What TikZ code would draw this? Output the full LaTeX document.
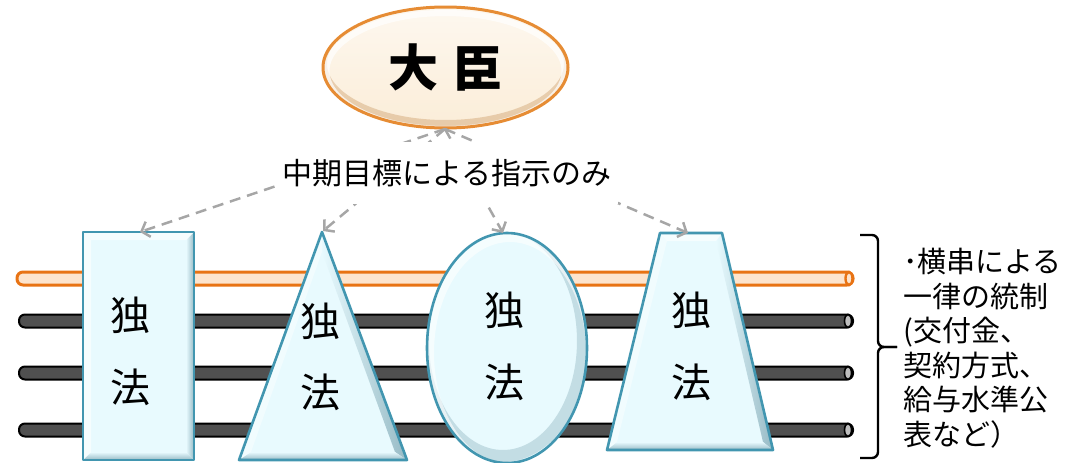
\documentclass[tikz,border=0pt]{standalone}
\usepackage{fontspec}
\newfontfamily\jp{Noto Sans CJK JP}
\usetikzlibrary{arrows.meta,shapes.geometric}
\definecolor{shfill}{RGB}{232,250,254}
\definecolor{shborder}{RGB}{66,150,176}
\definecolor{bevdark}{RGB}{150,186,197}
\definecolor{orangeline}{RGB}{232,115,20}
\definecolor{peach}{RGB}{253,228,205}
\definecolor{bardark}{RGB}{80,80,80}
\definecolor{capgray}{RGB}{190,190,190}
\definecolor{arrowgray}{RGB}{166,166,166}
\definecolor{cream}{RGB}{251,237,216}
\definecolor{minborder}{RGB}{230,140,52}
\definecolor{tan}{RGB}{196,140,80}
\begin{document}
\begin{tikzpicture}[x=1pt,y=-1pt,
  obar/.style={draw=orangeline, fill=peach, line width=3pt, rounded corners=6pt},
  kbar/.style={draw=black, fill=bardark, line width=2pt, rounded corners=6pt},
  shapeborder/.style={draw=shborder, line width=2.6pt, line join=round},
  hilite/.style={fill=white, opacity=.6},
  indep/.style={font=\jp\fontsize{40}{40}\selectfont, inner sep=0pt},
  garrow/.style={draw=arrowgray, line width=2.5pt, dash pattern=on 11pt off 7pt,
     -{Straight Barb[length=7pt,width=16pt]}},
  bracestyle/.style={draw=black, line width=2.4pt, rounded corners=6pt}
]
\useasboundingbox (0,0) rectangle (1072,463);

% ---------- bars ----------
\draw[obar] (17,272) rectangle (853,285);
\draw[draw=orangeline, fill=peach, line width=2.4pt] (849,278.5) ellipse [x radius=3.5, y radius=6.5];
\foreach \yy in {321,373,430}{
  \draw[kbar] (19,\yy-6.5) rectangle (853,\yy+6.5);
  \draw[draw=black, fill=capgray, line width=1.6pt] (848,\yy) ellipse [x radius=3.5, y radius=6.5];
}

% ---------- rectangle ----------
\fill[shfill] (83,232) rectangle (194,460);
\shade[left color=shfill, right color=bevdark] (186,240) -- (194,232) -- (194,460) -- (186,452) -- cycle;
\shade[top color=shfill, bottom color=bevdark] (83,460) -- (91,452) -- (186,452) -- (194,460) -- cycle;
\fill[hilite] (83,232) -- (194,232) -- (186,240) -- (91,240) -- cycle;
\fill[hilite] (83,232) -- (91,240) -- (91,452) -- (83,460) -- cycle;
\draw[shapeborder] (83,232) rectangle (194,460);

% ---------- triangle ----------
\fill[shfill] (322,232) -- (407,460) -- (239,460) -- cycle;
\shade[left color=shfill, right color=bevdark] (322,232) -- (407,460) -- (395,452) -- (322,252) -- cycle;
\shade[top color=shfill, bottom color=bevdark] (239,460) -- (407,460) -- (395,452) -- (251,452) -- cycle;
\fill[hilite, opacity=.4] (322,232) -- (322,252) -- (251,452) -- (239,460) -- cycle;
\draw[shapeborder] (322,232) -- (407,460) -- (239,460) -- cycle;

% ---------- ellipse ----------
\fill[shfill] (507,348) ellipse [x radius=80, y radius=115];
\begin{scope}
  \clip (507,348) ellipse [x radius=80, y radius=115];
  \draw[bevdark, line width=12pt, opacity=.45] (503,341) ellipse [x radius=80, y radius=115];
  \draw[white, line width=8pt, opacity=.6] (510,353) ellipse [x radius=80, y radius=115];
\end{scope}
\draw[shapeborder] (507,348) ellipse [x radius=80, y radius=115];

% ---------- trapezoid ----------
\fill[shfill] (660,233) -- (722,233) -- (773,450) -- (607,450) -- cycle;
\shade[left color=shfill, right color=bevdark] (722,233) -- (773,450) -- (763,442) -- (716,241) -- cycle;
\shade[top color=shfill, bottom color=bevdark] (607,450) -- (773,450) -- (763,442) -- (617,442) -- cycle;
\fill[hilite] (660,233) -- (722,233) -- (716,241) -- (667,241) -- cycle;
\fill[hilite, opacity=.4] (660,233) -- (667,241) -- (617,442) -- (607,450) -- cycle;
\draw[shapeborder] (660,233) -- (722,233) -- (773,450) -- (607,450) -- cycle;

% ---------- shape labels ----------
\node[indep] (a1) at (130,315) {独};
\node[indep] (a2) at (130,387) {法};
\node[indep] (b1) at (320,321) {独};
\node[indep] (b2) at (320,392) {法};
\node[indep] (c1) at (504,310) {独};
\node[indep] (c2) at (504,382) {法};
\node[indep] (d1) at (691,310) {独};
\node[indep] (d2) at (691,382) {法};

% ---------- minister ----------
\shade[top color=white!60!cream, bottom color=cream] (445.5,67.5) ellipse [x radius=122.5, y radius=60.5];
\begin{scope}
  \clip (445.5,67.5) ellipse [x radius=122.5, y radius=60.5];
  \draw[tan, line width=8pt, opacity=.35] (445.5,63.5) ellipse [x radius=122.5, y radius=60.5];
  \draw[white, line width=6pt, opacity=.7] (445.5,71) ellipse [x radius=119, y radius=58];
\end{scope}
\node[ellipse, draw=minborder, line width=3pt, minimum width=245pt, minimum height=121pt,
      font=\jp\bfseries\fontsize{50}{50}\selectfont] (minister) at (445.5,67.5) {大\hspace{14pt}臣};

% ---------- arrows ----------
\coordinate (src) at (445,129);
\coordinate (t1) at (140,232);
\coordinate (t2) at (323,231);
\coordinate (t3) at (503,233);
\coordinate (t4) at (688,233);
\draw[garrow] (src) -- (t1);
\draw[garrow] (src) -- (t2);
\draw[garrow] (src) -- (t3);
\draw[garrow] (src) -- (t4);

\node[fill=white, inner xsep=6pt, minimum height=62pt,
      font=\jp\fontsize{30}{30}\selectfont] (mid) at (447,173) {中期目標による指示のみ};

% ---------- brace ----------
\draw[bracestyle] (860,235) -- (878,235) -- (878,347) -- (897,347);
\draw[bracestyle] (897,347) -- (878,347) -- (878,458) -- (860,458);

\node[anchor=north west, align=left, inner sep=0pt,
      font=\jp\fontsize{29}{34.6}\selectfont] (note) at (903,248)
  {･横串による\\一律の統制\\(交付金、\\契約方式、\\給与水準公\\表など）};
\end{tikzpicture}
\end{document}
